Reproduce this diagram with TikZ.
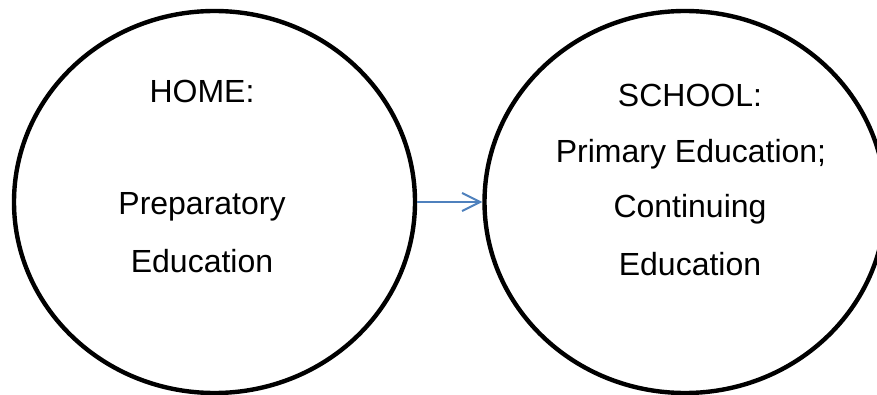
\documentclass[tikz,border=0pt]{standalone}
\usepackage{fontspec}
\setmainfont{Liberation Sans}
\usetikzlibrary{shapes.geometric}
\usetikzlibrary{arrows.meta}
\definecolor{linkblue}{RGB}{79,129,189}
\tikzset{
	place/.style={ellipse,draw,line width=2.2pt,inner sep=0pt,minimum width=200.5pt,minimum height=191pt}
}
\tikzset{
	line/.style={anchor=base,inner sep=0pt,font=\fontsize{16}{28}\selectfont}
}

\begin{document}
\begin{tikzpicture}[x=0.5pt,y=-0.5pt]
	\useasboundingbox (0,0) rectangle (877,395);
	\node[place] (H) at (214.5,202) {};
	\node[place] (S) at (685,202) {};
	\draw[linkblue,line width=1pt,-{Straight Barb[length=9pt,width=9pt]}] (H.east) -- (S.west);
	%home
	\node[line] (H-1) at (202,103) {HOME:};
	\node[line] (H-2) at (202,214) {Preparatory};
	\node[line] (H-3) at (202,272) {Education};
	%school
	\node[line] (S-1) at (690,107) {SCHOOL:};
	\node[line] (S-2) at (691,163) {Primary Education;};
	\node[line] (S-3) at (690,218) {Continuing};
	\node[line] (S-4) at (690,275) {Education};
\end{tikzpicture}
\end{document}
